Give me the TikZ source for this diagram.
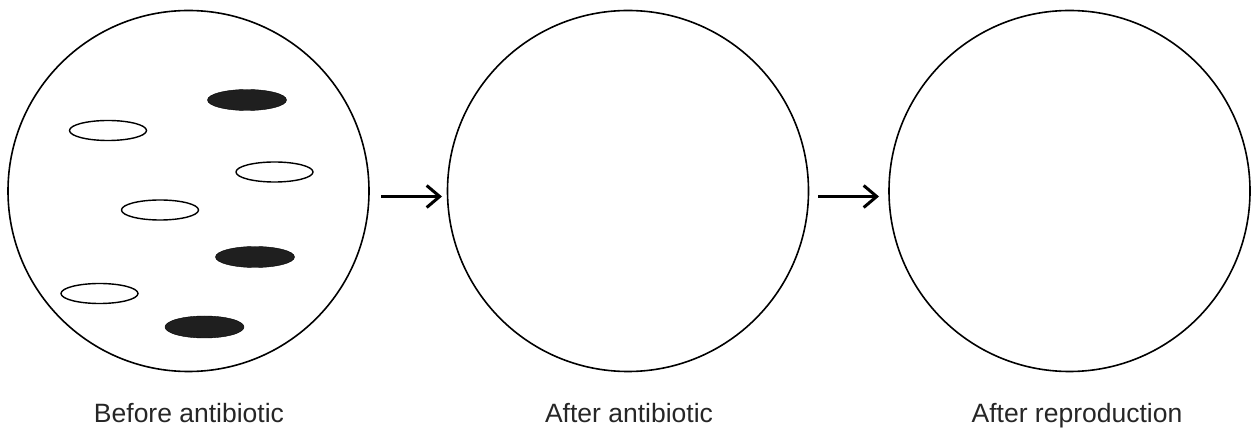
\documentclass[tikz,border=0pt]{standalone}
\usepackage{fontspec}
\setmainfont{Liberation Sans}
\usetikzlibrary{arrows.meta}
\begin{document}
\begin{tikzpicture}[x=1pt,y=-1pt,
  dish/.style={draw, line width=1.6pt, circle, minimum size=361pt, inner sep=0pt},
  cellopen/.style={draw, line width=1.4pt, fill=white},
  cellfill/.style={fill=black!88},
  arr/.style={-{Straight Barb[length=13pt,width=22pt,line width=3pt]}, line width=3pt},
  lbl/.style={font=\fontsize{26.5}{30}\selectfont, anchor=base, text=black!85}]
\useasboundingbox (0,0) rectangle (1251,430);
\node[dish] (d1) at (188.5,191) {};
\node[dish] (d2) at (628,191) {};
\node[dish] (d3) at (1069.5,191) {};
% cells
\draw[cellfill] (247,100) ellipse [x radius=39.5, y radius=10.5];
\draw[cellopen] (108,130.5) ellipse [x radius=38.5, y radius=10];
\draw[cellopen] (274.5,172) ellipse [x radius=38.5, y radius=10];
\draw[cellopen] (160,210) ellipse [x radius=38.5, y radius=10];
\draw[cellfill] (255,257) ellipse [x radius=39.5, y radius=10.5];
\draw[cellopen] (99.5,293.5) ellipse [x radius=38.5, y radius=10];
\draw[cellfill] (204.5,327) ellipse [x radius=39.5, y radius=11];
% arrows
\coordinate (a1s) at (381,196.5);
\coordinate (a1e) at (442,196.5);
\coordinate (a2s) at (818,196.5);
\coordinate (a2e) at (879,196.5);
\draw[arr] (a1s) -- (a1e);
\draw[arr] (a2s) -- (a2e);
% labels
\node[lbl] (t1) at (189,422) {Before antibiotic};
\node[lbl] (t2) at (629,422) {After antibiotic};
\node[lbl] (t3) at (1077,422) {After reproduction};
\end{tikzpicture}
\end{document}
